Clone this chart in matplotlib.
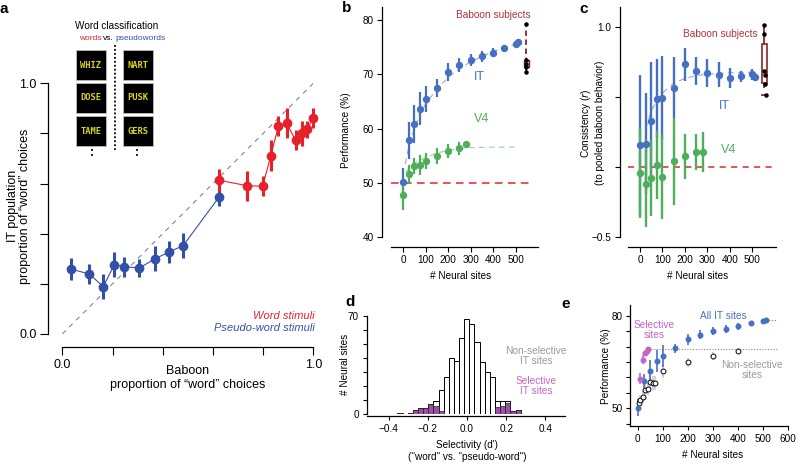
import numpy as np
import matplotlib
matplotlib.use("Agg")
import matplotlib.pyplot as plt
from matplotlib.patches import Rectangle

plt.rcParams['font.family'] = ['Liberation Sans', 'DejaVu Sans']
plt.rcParams['axes.linewidth'] = 0.9

# ---- colours
RED = "#e8202c"
BLUE_A = "#3350a8"
BLUE = "#4671c2"
GREEN = "#4fae5a"
DARKRED = "#8b2525"
BAB_TXT = "#b0343c"
PURPLE = "#9b4fa5"
MAGENTA = "#c466c8"
GREY = "#9a9a9a"

# ---- panel a : baboon vs IT proportion of "word" choices
a_pw_x = [0.035, 0.108, 0.163, 0.207, 0.247, 0.307, 0.369, 0.426, 0.482, 0.625]
a_pw_y = [0.259, 0.239, 0.189, 0.276, 0.269, 0.263, 0.300, 0.327, 0.353, 0.547]
a_pw_err = [0.045, 0.04, 0.05, 0.05, 0.04, 0.035, 0.05, 0.045, 0.05, 0.035]
a_w_x = [0.625, 0.735, 0.798, 0.831, 0.861, 0.894, 0.930, 0.954, 0.975, 1.0]
a_w_y = [0.613, 0.592, 0.589, 0.712, 0.829, 0.840, 0.772, 0.800, 0.816, 0.863]
a_w_err = [0.045, 0.06, 0.04, 0.06, 0.04, 0.06, 0.04, 0.05, 0.035, 0.04]
words = ['WHIZ', 'DOSE', 'TAME']
pseudowords = ['NART', 'PUSK', 'GERS']

# ---- panel b : performance vs number of sites
b_it_x = [0, 25, 50, 75, 100, 150, 200, 250, 300, 350, 400, 450, 500, 510]
b_it = [50.2, 57.9, 60.9, 63.7, 65.4, 67.5, 70.4, 71.7, 72.6, 73.3, 74.0, 74.8, 75.6, 75.9]
b_it_err = [2.6, 3.4, 3.5, 3.0, 2.4, 1.6, 1.6, 1.3, 1.1, 1.0, 0.9, 0.4, 0.3, 0.3]
b_v4_x = [0, 25, 50, 75, 100, 150, 200, 250, 280]
b_v4 = [47.8, 51.6, 53.1, 53.3, 54.1, 55.0, 55.9, 56.4, 57.2]
b_v4_err = [2.8, 1.8, 1.5, 1.8, 1.5, 1.5, 1.3, 1.2, 0.3]
b_it_fit_x = [10, 25, 50, 75, 100, 150, 200, 250, 300, 350, 400, 450, 510]
b_it_fit = [53.5, 56.5, 60.0, 62.6, 64.5, 67.3, 69.4, 71.0, 72.3, 73.3, 74.2, 74.9, 75.7]
b_v4_fit_x = [10, 50, 100, 150, 200, 250, 300, 400, 500]
b_v4_fit = [52.0, 53.6, 54.7, 55.5, 56.0, 56.3, 56.5, 56.6, 56.6]
b_baboon = [79.3, 72.6, 71.9, 71.3, 70.5]
b_box = (71.4, 72.65)

# ---- panel c : consistency with baboon behaviour
c_it_x = [0, 25, 50, 75, 100, 150, 200, 250, 300, 350, 400, 450, 500, 510]
c_it = [0.16, 0.17, 0.33, 0.49, 0.495, 0.57, 0.735, 0.69, 0.676, 0.66, 0.636, 0.65, 0.664, 0.645]
c_it_err = [0.5, 0.36, 0.42, 0.28, 0.3, 0.22, 0.12, 0.1, 0.1, 0.09, 0.07, 0.04, 0.04, 0.03]
c_v4_x = [0, 25, 50, 75, 100, 150, 200, 250, 280]
c_v4 = [-0.04, -0.117, -0.076, 0.017, -0.067, 0.043, 0.08, 0.11, 0.11]
c_v4_err = [0.32, 0.31, 0.27, 0.24, 0.3, 0.31, 0.16, 0.13, 0.14]
c_it_fit_x = [25, 50, 75, 100, 150, 200, 250, 300, 400, 510]
c_it_fit = [0.28, 0.40, 0.48, 0.53, 0.60, 0.635, 0.655, 0.665, 0.675, 0.68]
c_baboon = [1.017, 0.95, 0.688, 0.66, 0.595, 0.52]
c_box = (0.605, 0.879)
c_whisk = (0.576, 1.017)

# ---- panel d : selectivity histogram
d_total = [1, 0, 1, 3, 4, 4, 7, 9, 17, 26, 40, 38, 54, 68, 64, 51, 37, 30, 26, 9, 9, 9, 2, 3]
d_selective = [1, 0, 1, 3, 4, 4, 7, 6, 2, 0, 0, 0, 0, 0, 0, 0, 0, 0, 0, 5, 6, 8, 2, 3]
d_lo, d_w = -0.355, 0.0262

# ---- panel e : selective vs non-selective sites
e_all_x = [0, 25, 50, 75, 100, 150, 200, 250, 300, 350, 400, 450, 500, 510]
e_all = [50.2, 58.8, 62.1, 65.3, 66.9, 69.4, 72.4, 73.9, 75.0, 75.7, 76.6, 77.5, 78.3, 78.5]
e_all_err = [2.7, 2.3, 3.6, 3.5, 3.5, 1.5, 1.8, 1.5, 1.3, 1.2, 1.1, 0.3, 0.3, 0.3]
e_sel_x = [10, 20, 30, 36, 42]
e_sel = [59.6, 65.7, 67.8, 68.7, 69.2]
e_sel_err = [1.8, 1.5, 0.9, 0.6, 0.4]
e_non_x = [5, 10, 20, 30, 40, 50, 60, 70, 100, 200, 300, 400]
e_non = [51.6, 52.8, 53.8, 56.0, 56.3, 58.6, 58.2, 58.2, 62.0, 64.9, 66.9, 68.6]
e_non_err = [1.5, 1.5, 2.0, 2.0, 2.0, 2.2, 2.2, 2.2, 2.2, 1.5, 1.2, 0.8]

W, H = 796, 463
fig = plt.figure(figsize=(W / 100, H / 100), dpi=100)

TICK = 7.2
LAB = 7.2


def place(xv, xp, yv, yp, xlim, ylim):
    # put an axes so that data values xv/yv land on pixel xp/yp
    sx = (xp[1] - xp[0]) / (xv[1] - xv[0])
    sy = (yp[1] - yp[0]) / (yv[1] - yv[0])
    x0 = xp[0] + (xlim[0] - xv[0]) * sx
    x1 = xp[0] + (xlim[1] - xv[0]) * sx
    y0 = yp[0] + (ylim[0] - yv[0]) * sy
    y1 = yp[0] + (ylim[1] - yv[0]) * sy
    ax = fig.add_axes([x0 / W, 1 - y0 / H, (x1 - x0) / W, (y0 - y1) / H])
    ax.set_xlim(xlim)
    ax.set_ylim(ylim)
    ax.patch.set_visible(False)
    for s in ['top', 'right']:
        ax.spines[s].set_visible(False)
    return ax


def offs(ax, left, bottom, ticklen, size, pad=2.5):
    ax.spines['left'].set_position(('outward', left * 0.72))
    ax.spines['bottom'].set_position(('outward', bottom * 0.72))
    ax.tick_params(length=ticklen, width=0.8, labelsize=size, pad=pad)


# ================= a
ax = place((0, 1), (62.3, 313.3), (0, 1), (334, 83.3), (0, 1), (0, 1))
offs(ax, 14, 13, 5.5, 9, pad=3)
ticks = [0, 0.2, 0.4, 0.6, 0.8, 1.0]
ax.set_xticks(ticks)
ax.set_xticklabels(['0.0', '', '', '', '', '1.0'])
ax.set_yticks(ticks)
ax.set_yticklabels(['0.0', '', '', '', '', '1.0'])
ax.plot([0, 1], [0, 1], color='#777777', lw=0.7, dashes=(5, 5))
ax.plot(a_pw_x, a_pw_y, color=BLUE_A, lw=0.8)
ax.plot(a_w_x, a_w_y, color=RED, lw=0.8)
ax.errorbar(a_pw_x, a_pw_y, yerr=a_pw_err, fmt='o', color=BLUE_A, ms=6,
            elinewidth=2.2, capsize=0, clip_on=False)
ax.errorbar(a_w_x, a_w_y, yerr=a_w_err, fmt='o', color=RED, ms=6,
            elinewidth=2.2, capsize=0, clip_on=False)

# ================= b
ax = place((0, 500), (403, 515.7), (40, 80), (237.3, 20), (-53, 600), (40, 82.4))
offs(ax, 8.7, 9.4, 3.5, TICK)
ax.set_xticks([0, 100, 200, 300, 400, 500])
ax.set_yticks([40, 50, 60, 70, 80])
ax.axhline(50, xmin=0, xmax=(572 + 53) / 653, color=RED, lw=1.1, dashes=(5, 3.5))
ax.plot(b_it_fit_x, b_it_fit, color='#8fa9dd', lw=0.8, dashes=(5, 4))
ax.plot(b_v4_fit_x, b_v4_fit, color='#98d3a0', lw=0.8, dashes=(5, 4))
ax.errorbar(b_it_x, b_it, yerr=b_it_err, fmt='o', color=BLUE, ms=4.3,
            elinewidth=1.6, capsize=0)
ax.errorbar(b_v4_x, b_v4, yerr=b_v4_err, fmt='o', color=GREEN, ms=4.3,
            elinewidth=1.6, capsize=0)
ax.plot([547, 547], [min(b_baboon), max(b_baboon)], color=DARKRED, lw=1.3, dashes=(3, 2))
ax.add_patch(Rectangle((547 - 10, b_box[0]), 20, b_box[1] - b_box[0],
                       facecolor='#f3dada', edgecolor=DARKRED, lw=1.0, zorder=3))
ax.scatter([547] * len(b_baboon), b_baboon, s=5, color='black', zorder=4)
ax.text(568, 80.9, 'Baboon subjects', color=BAB_TXT, fontsize=7.3, ha='right', va='center')
ax.text(341, 69.5, 'IT', color=BLUE, fontsize=9, ha='center', va='center')
ax.text(349, 61.8, 'V4', color=GREEN, fontsize=9, ha='center', va='center')

# ================= c
ax = place((0, 500), (640, 752.3), (-0.5, 1.0), (237.3, 27.3), (-52, 604), (-0.5, 1.147))
offs(ax, 8.3, 9.4, 3.5, TICK)
ax.set_xticks([0, 100, 200, 300, 400, 500])
ax.set_yticks([-0.5, 0, 0.5, 1.0])
ax.set_yticklabels(['\u22120.5', '', '', '1.0'])
ax.axhline(0, xmin=0, xmax=(588 + 52) / 656, color=RED, lw=1.1, dashes=(4, 3.5))
ax.plot(c_it_fit_x, c_it_fit, color='#8fa9dd', lw=0.8, dashes=(5, 4))
ax.errorbar(c_it_x, c_it, yerr=c_it_err, fmt='o', color=BLUE, ms=4.3,
            elinewidth=1.7, capsize=0)
ax.errorbar(c_v4_x, c_v4, yerr=c_v4_err, fmt='o', color=GREEN, ms=4.3,
            elinewidth=1.7, capsize=0)
ax.plot([553, 553], c_whisk, color=DARKRED, lw=1.3)
ax.plot([545, 555], [c_baboon[-1]] * 2, color=DARKRED, lw=1.3)
ax.add_patch(Rectangle((553 - 12, c_box[0]), 24, c_box[1] - c_box[0],
                       facecolor='white', edgecolor=DARKRED, lw=1.2, zorder=3))
ax.scatter([553, 553, 553, 556, 557, 560], c_baboon, s=5, color='black', zorder=4)
ax.text(524, 0.95, 'Baboon subjects', color=BAB_TXT, fontsize=7.3, ha='right', va='center')
ax.text(374, 0.438, 'IT', color=BLUE, fontsize=9, ha='center', va='center')
ax.text(393, 0.124, 'V4', color=GREEN, fontsize=9, ha='center', va='center')

# ================= d
ax = place((-0.4, 0.4), (388.6, 545.4), (0, 70), (414, 315.7), (-0.512, 0.5), (0, 70))
offs(ax, 0, 2, 3, TICK)
ax.set_xticks([-0.4, -0.2, 0, 0.2, 0.4])
ax.set_xticklabels(['\u22120.4', '\u22120.2', '0.0', '0.2', '0.4'])
ax.set_yticks(range(0, 71, 10))
ax.set_yticklabels(['0', '', '', '', '', '', '', '70'])
centers = d_lo + d_w * (np.arange(len(d_total)) + 0.5)
tot = np.array(d_total)
sel = np.array(d_selective)
ax.bar(centers[tot > 0], tot[tot > 0], width=d_w, color='white', edgecolor='black', lw=0.7)
ax.bar(centers[sel > 0], sel[sel > 0], width=d_w, color=PURPLE, edgecolor='#222222', lw=0.5)

# ================= e
ax = place((0, 600), (637.7, 788.3), (50, 80), (408.3, 315.7), (-29, 600), (44.3, 83.5))
offs(ax, 0, 0, 3, TICK)
ax.set_xticks([0, 100, 200, 300, 400, 500, 600])
ax.set_yticks(range(45, 81, 5))
ax.set_yticklabels(['', '50', '', '', '', '', '', '80'])
ax.plot([40, 553], [69.2, 69.2], color='#888888', lw=0.8, ls=(0, (1, 1.5)))
ax.plot([510, 553], [78.5, 78.5], color='#888888', lw=0.8, ls=(0, (1, 1.5)))
ax.errorbar(e_non_x, e_non, yerr=e_non_err, fmt='o', mfc='white', mec='black', mew=0.7,
            ecolor='#c8c8c8', ms=3.5, elinewidth=1.1, capsize=0)
ax.errorbar(e_all_x, e_all, yerr=e_all_err, fmt='o', color=BLUE, ms=3.3,
            elinewidth=1.2, capsize=0)
ax.errorbar(e_sel_x, e_sel, yerr=e_sel_err, fmt='o', color=MAGENTA, ms=3.3,
            elinewidth=1.2, capsize=0)

# ================= overlay: letters, labels, inset tiles
ov = fig.add_axes([0, 0, 1, 1])
ov.set_xlim(0, W)
ov.set_ylim(H, 0)
ov.axis('off')

for lab, x, y in [('a', 4, 9), ('b', 347, 8), ('c', 584, 9), ('d', 350, 302), ('e', 566, 304)]:
    ov.text(x, y, lab, fontsize=11, fontweight='bold', ha='center', va='center')

# panel a labels
ov.text(19, 206, 'IT population\nproportion of \u201cword\u201d choices', rotation=90,
        ha='center', va='center', fontsize=9, linespacing=1.1)
ov.text(188, 378, 'Baboon\nproportion of \u201cword\u201d choices', ha='center', va='center',
        fontsize=9, linespacing=1.15)
ov.text(315, 316, 'Word stimuli', color=RED, style='italic', fontsize=8, ha='right', va='center')
ov.text(315, 328, 'Pseudo-word stimuli', color=BLUE_A, style='italic', fontsize=8,
        ha='right', va='center')

# word classification inset
ov.text(117, 26, 'Word classification', fontsize=7.2, ha='center', va='center')
ov.text(101.5, 38, 'words', color=RED, fontsize=6, ha='right', va='center')
ov.text(108.5, 38, 'vs.', fontsize=6, ha='center', va='center')
ov.text(115.5, 38, 'pseudowords', color=BLUE_A, fontsize=6, ha='left', va='center')
for i in range(3):
    y = 50 + i * 33
    for x, wd in [(76, words[i]), (123, pseudowords[i])]:
        ov.add_patch(Rectangle((x, y), 30, 30, facecolor='black', edgecolor='#bbbbbb', lw=0.6))
        ov.text(x + 15, y + 15, wd, color='#dcd31c', fontsize=6.3, fontweight='bold',
                family='DejaVu Sans Mono', ha='center', va='center')
ov.plot([115, 115], [45, 150], color='black', lw=1.3, ls=(0, (1, 1.2)))
ov.plot([92, 92], [149, 159], color='black', lw=1.3, ls=(0, (1, 1.8)))
ov.plot([137, 137], [149, 159], color='black', lw=1.3, ls=(0, (1, 1.8)))

# panel b/c labels
ov.text(346, 130, 'Performance (%)', rotation=90, fontsize=LAB, ha='center', va='center')
ov.text(461, 276, '# Neural sites', fontsize=LAB, ha='center', va='center')
ov.text(592, 123, 'Consistency ($\\it{r}$)\n(to pooled baboon behavior)', rotation=90,
        fontsize=LAB, ha='center', va='center', linespacing=1.15)
ov.text(698, 276, '# Neural sites', fontsize=LAB, ha='center', va='center')

# panel d labels
ov.text(345, 364, '# Neural sites', rotation=90, fontsize=LAB, ha='center', va='center')
ov.text(467, 451, "Selectivity (d')\n(\"word\" vs. \"pseudo-word\")", fontsize=LAB,
        ha='center', va='center', linespacing=1.2)
ov.text(536, 356, 'Non-selective\nIT sites', color=GREY, fontsize=7.3, ha='center',
        va='center', linespacing=1.05)
ov.text(536, 386, 'Selective\nIT sites', color=MAGENTA, fontsize=7.3, ha='center',
        va='center', linespacing=1.05)

# panel e labels
ov.text(606, 366, 'Performance (%)', rotation=90, fontsize=LAB, ha='center', va='center')
ov.text(713, 455, '# Neural sites', fontsize=LAB, ha='center', va='center')
ov.text(723, 316, 'All IT sites', color=BLUE, fontsize=7.3, ha='center', va='center')
ov.text(654, 330, 'Selective\nsites', color=MAGENTA, fontsize=7.3, ha='center', va='center',
        linespacing=1.05)
ov.text(752, 370, 'Non-selective\nsites', color=GREY, fontsize=7.3, ha='center', va='center',
        linespacing=1.05)

fig.savefig('out.png', dpi=100)
